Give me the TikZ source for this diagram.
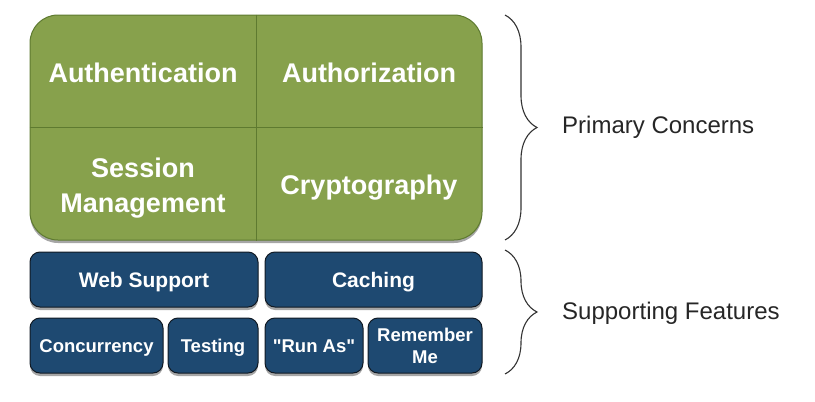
\documentclass[tikz,border=0pt]{standalone}
\usepackage{fontspec}
\setmainfont{Liberation Sans}
\newfontfamily\rawsans{Liberation Sans}[Ligatures=TeXOff]
\usetikzlibrary{shadows,decorations.pathreplacing}
\definecolor{gfill}{HTML}{87A14C}
\definecolor{gline}{HTML}{5E7A30}
\definecolor{bfill}{HTML}{1E4971}
\definecolor{bline}{HTML}{111A24}
\definecolor{brc}{HTML}{333333}
\begin{document}
\begin{tikzpicture}[x=1pt,y=-1pt,
  core/.style={draw=gline, line width=1pt, fill=gfill, rounded corners=28pt,
    minimum width=452pt, minimum height=225pt, inner sep=0pt,
    drop shadow={shadow xshift=0pt, shadow yshift=-3pt, opacity=0.35, fill=black}},
  cell/.style={text=white, font=\fontsize{27}{35}\selectfont\bfseries, align=center, inner sep=0pt},
  feat/.style={draw=bline, line width=1pt, fill=bfill, rounded corners=10pt,
    minimum height=55pt, inner sep=0pt, text=white, align=center,
    drop shadow={shadow xshift=0pt, shadow yshift=-3pt, opacity=0.35, fill=black}},
  big/.style={font=\fontsize{21}{25}\selectfont\bfseries, text height=15pt, text depth=0pt},
  small/.style={font=\fontsize{18.5}{22}\selectfont\bfseries},
  oneline/.style={text height=13.2pt, text depth=0pt},
  bracestyle/.style={draw=brc, line width=1.1pt, decorate, decoration={brace, amplitude=32pt}},
  lab/.style={anchor=west, font=\fontsize{24}{28}\selectfont, text=black!85, inner sep=0pt}]
\useasboundingbox (0,0) rectangle (815,402);
\node[core] (core) at (256,127.5) {};
\draw[gline, line width=1pt] (core.north) -- (core.south);
\draw[gline, line width=1pt] (core.west) -- (core.east);
\node[cell] (auth) at (143,73) {Authentication};
\node[cell] (authz) at (369,73) {Authorization};
\node[cell] (sess) at (143,188) {Session\\Management};
\node[cell] (crypt) at (369,187.5) {Cryptography};
\node[feat, big, minimum width=228pt] (web) at (144,279.5) {Web Support};
\node[feat, big, minimum width=217pt] (cache) at (373.5,279.5) {Caching};
\node[feat, small, oneline, minimum width=133pt] (conc) at (96.5,345.5) {Concurrency};
\node[feat, small, oneline, minimum width=90pt] (test) at (213,345.5) {Testing};
\node[feat, small, oneline, minimum width=98pt] (runas) at (314,345.5) {\rawsans\bfseries "Run As"};
\node[feat, small, minimum width=114pt] (remember) at (425,345.5) {Remember\\Me};
\coordinate (b1t) at (505,15);
\coordinate (b1b) at (505,240);
\coordinate (b2t) at (505,250);
\coordinate (b2b) at (505,374);
\draw[bracestyle] (b1t) -- (b1b);
\draw[bracestyle] (b2t) -- (b2b);
\node[lab] (primary) at (562,127) {Primary Concerns};
\node[lab] (support) at (562,313) {Supporting Features};
\end{tikzpicture}
\end{document}
